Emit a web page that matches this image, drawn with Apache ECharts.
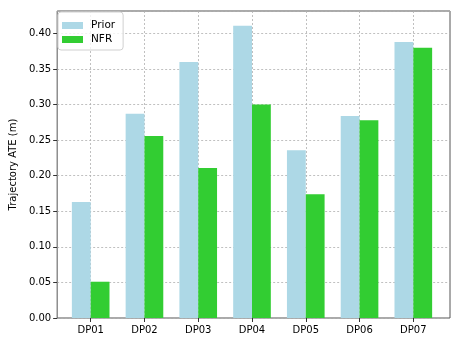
<!DOCTYPE html>
<html>
<head>
<meta charset="utf-8">
<script src="https://cdn.jsdelivr.net/npm/echarts@6/dist/echarts.min.js"></script>
<style>
  html, body { margin: 0; padding: 0; background: #fff; }
  #main { width: 461px; height: 346px; }
</style>
</head>
<body>
<div id="main"></div>
<script>
var categories = ['DP01', 'DP02', 'DP03', 'DP04', 'DP05', 'DP06', 'DP07'];
var priorValues = [0.163, 0.287, 0.360, 0.411, 0.236, 0.284, 0.388];
var nfrValues = [0.051, 0.256, 0.211, 0.300, 0.174, 0.278, 0.380];
var yTicks = [0.00, 0.05, 0.10, 0.15, 0.20, 0.25, 0.30, 0.35, 0.40];

var yMax = 0.4316;
var font = 'DejaVu Sans';
var gridLine = { show: true, lineStyle: { color: '#b0b0b0', type: [2, 2], width: 0.8 } };

var myChart = echarts.init(document.getElementById('main'));

var option = {
    animation: false,
    textStyle: { fontFamily: font },
    grid: [
        // frame + y axis
        { left: 53, right: 11, top: 11, bottom: 28, show: true, borderColor: '#555', borderWidth: 1, backgroundColor: 'transparent' },
        // bars (narrower, matches matplotlib x margins)
        { left: 63.8, right: 20.8, top: 11, bottom: 28 }
    ],
    legend: {
        orient: 'vertical',
        left: 58,
        top: 12,
        itemWidth: 21,
        itemHeight: 7,
        itemGap: 3,
        padding: [8, 8, 5, 4],
        backgroundColor: 'rgba(255,255,255,0.8)',
        borderColor: '#d0d0d0',
        borderWidth: 1,
        borderRadius: 3,
        textStyle: { fontFamily: font, fontSize: 10.5, color: '#000', padding: [0, 0, 0, 3] },
        data: [
            { name: 'Prior', icon: 'rect' },
            { name: 'NFR', icon: 'rect' }
        ]
    },
    xAxis: [
        { gridIndex: 0, type: 'value', min: 0, max: 1, show: false },
        {
            gridIndex: 1,
            type: 'category',
            data: categories,
            axisLine: { show: false },
            axisTick: { show: true, alignWithLabel: true, length: 4, inside: false, lineStyle: { color: '#333' } },
            axisLabel: { fontFamily: font, fontSize: 10, color: '#000', margin: 7 },
            splitLine: Object.assign({ alignWithLabel: true }, gridLine)
        }
    ],
    yAxis: [
        {
            gridIndex: 0,
            type: 'value',
            min: 0,
            max: yMax,
            interval: 0.05,
            name: 'Trajectory ATE (m)',
            nameLocation: 'middle',
            nameGap: 36,
            nameTextStyle: { fontFamily: font, fontSize: 10, color: '#000' },
            axisLine: { show: false },
            axisTick: { show: true, length: 4, lineStyle: { color: '#333' } },
            axisLabel: {
                fontFamily: font, fontSize: 10, color: '#000', margin: 6,
                showMaxLabel: false,
                formatter: function (v) {
                    for (var i = 0; i < yTicks.length; i++) {
                        if (Math.abs(yTicks[i] - v) < 1e-6) return yTicks[i].toFixed(2);
                    }
                    return '';
                }
            },
            splitLine: gridLine
        },
        { gridIndex: 1, type: 'value', min: 0, max: yMax, show: false }
    ],
    series: [
        {
            name: 'Prior',
            type: 'bar',
            xAxisIndex: 1,
            yAxisIndex: 1,
            data: priorValues,
            barWidth: '35%',
            barGap: '0%',
            itemStyle: { color: '#ADD8E6' }
        },
        {
            name: 'NFR',
            type: 'bar',
            xAxisIndex: 1,
            yAxisIndex: 1,
            data: nfrValues,
            barWidth: '35%',
            barGap: '0%',
            itemStyle: { color: '#32CD32' }
        }
    ]
};

myChart.setOption(option);
</script>
</body>
</html>
